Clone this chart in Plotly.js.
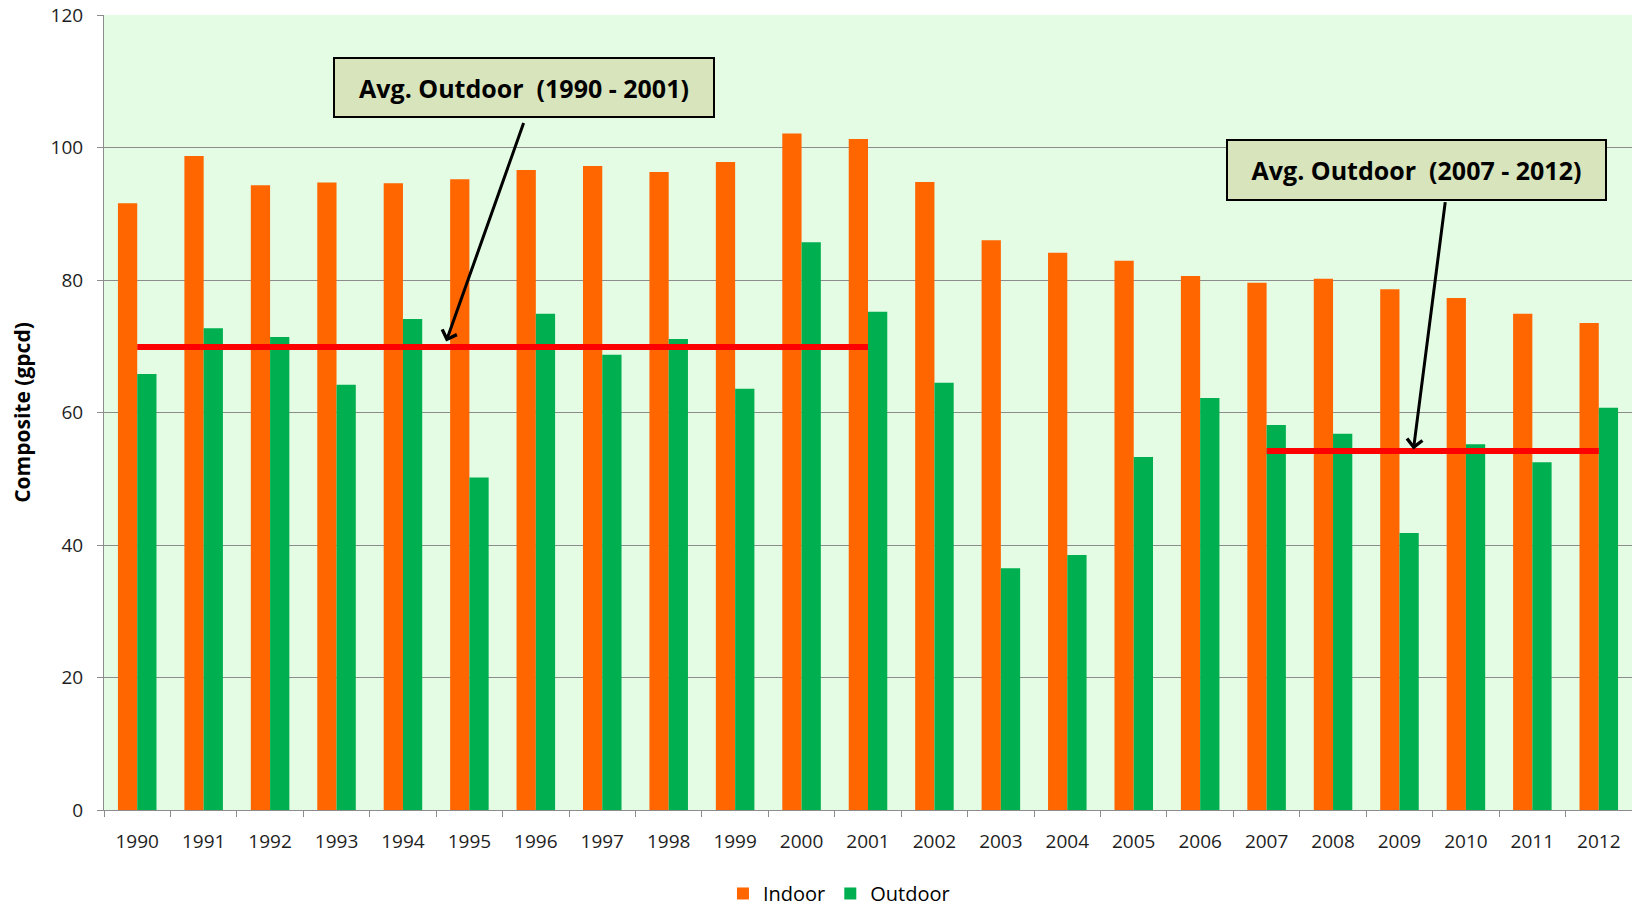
<!DOCTYPE html>
<html>
<head>
<meta charset="utf-8">
<script src="https://cdn.plot.ly/plotly-3.0.1.min.js"></script>
<style>html,body{margin:0;padding:0;background:#fff;}#chart{width:1632px;height:907px;}</style>
</head>
<body>
<div id="chart"></div>
<script>
const years = ['1990','1991','1992','1993','1994','1995','1996','1997','1998','1999','2000','2001','2002','2003','2004','2005','2006','2007','2008','2009','2010','2011','2012'];
const indoor = [91.6,98.7,94.3,94.7,94.6,95.2,96.6,97.2,96.3,97.8,102.1,101.3,94.8,86.0,84.1,82.9,80.6,79.6,80.2,78.6,77.3,74.9,73.5];
const outdoor = [65.8,72.7,71.4,64.2,74.1,50.2,74.9,68.7,71.1,63.6,85.7,75.2,64.5,36.5,38.5,53.3,62.2,58.1,56.8,41.8,55.2,52.5,60.7];
const earlyPeriod = ['1990','2001'];
const earlyAvg = [69.9,69.9];
const latePeriod = ['2007','2012'];
const lateAvg = [54.2,54.2];
const earlyLabel = 'Avg. Outdoor\u00A0 (1990 - 2001)';
const lateLabel = 'Avg. Outdoor\u00A0 (2007 - 2012)';

const FONT = 'Open Sans, Liberation Sans, sans-serif';

const traces = [
  {type:'bar', name:'Indoor', x:years, y:indoor, marker:{color:'#FF6600'}},
  {type:'bar', name:'Outdoor', x:years, y:outdoor, marker:{color:'#00B050'}},
  {type:'scatter', mode:'lines', x:earlyPeriod, y:earlyAvg, showlegend:false, hoverinfo:'skip',
   line:{color:'#FF0000', width:6}},
  {type:'scatter', mode:'lines', x:latePeriod, y:lateAvg, showlegend:false, hoverinfo:'skip',
   line:{color:'#FF0000', width:6}}
];

const boxStyle = {
  showarrow:false, xref:'paper', yref:'paper', xanchor:'center', yanchor:'middle',
  bgcolor:'#D8E4BC', bordercolor:'#000000', borderwidth:2, borderpad:3,
  font:{family:FONT, size:25, color:'#000000'}
};

const layout = {
  width:1632, height:907,
  margin:{l:104, r:0, t:15, b:97, autoexpand:false},
  paper_bgcolor:'#FFFFFF',
  plot_bgcolor:'#E3FCE3',
  barmode:'group', bargap:0.42, bargroupgap:0,
  font:{family:FONT, color:'#262626'},
  xaxis:{
    type:'category', tickson:'boundaries', ticks:'outside', ticklen:6, tickcolor:'#8C8C8C',
    showline:true, linecolor:'#8C8C8C', linewidth:1, showgrid:false,
    tickfont:{family:FONT, size:19, color:'#1E1E1E'}, ticklabelstandoff:14,
    automargin:false, fixedrange:true
  },
  yaxis:{
    range:[0,120], dtick:20, tick0:0, ticks:'outside', ticklen:6, tickcolor:'#8C8C8C',
    showline:true, linecolor:'#8C8C8C', linewidth:1,
    gridcolor:'#8C8C8C', gridwidth:1, zeroline:false,
    tickfont:{family:FONT, size:19, color:'#1E1E1E'}, ticklabelstandoff:10,
    title:{text:'<b>Composite (gpcd)</b>', font:{family:FONT, size:21, color:'#000000'}, standoff:14},
    automargin:false, fixedrange:true
  },
  legend:{
    orientation:'h', x:0.481, xanchor:'center', y:-0.105, yanchor:'middle',
    font:{family:FONT, size:20, color:'#000000'}, itemwidth:30, traceorder:'normal'
  },
  showlegend:true,
  annotations:[
    Object.assign({}, boxStyle, {text:'<b>'+earlyLabel+'</b>', x:0.2749, y:0.9088, width:372, height:51}),
    Object.assign({}, boxStyle, {text:'<b>'+lateLabel+'</b>', x:0.8588, y:0.805, width:371, height:52}),
    {text:'', showarrow:true, xref:'x', yref:'y', x:4.65, y:70.7, ax:78, ay:-220,
     arrowhead:4, arrowsize:1, arrowwidth:3, arrowcolor:'#000000', standoff:0, startstandoff:0},
    {text:'', showarrow:true, xref:'x', yref:'y', x:19.21, y:54.4, ax:32, ay:-249,
     arrowhead:4, arrowsize:1, arrowwidth:3, arrowcolor:'#000000', standoff:0, startstandoff:0}
  ]
};

Plotly.newPlot('chart', traces, layout, {displayModeBar:false, staticPlot:true});
</script>
</body>
</html>
